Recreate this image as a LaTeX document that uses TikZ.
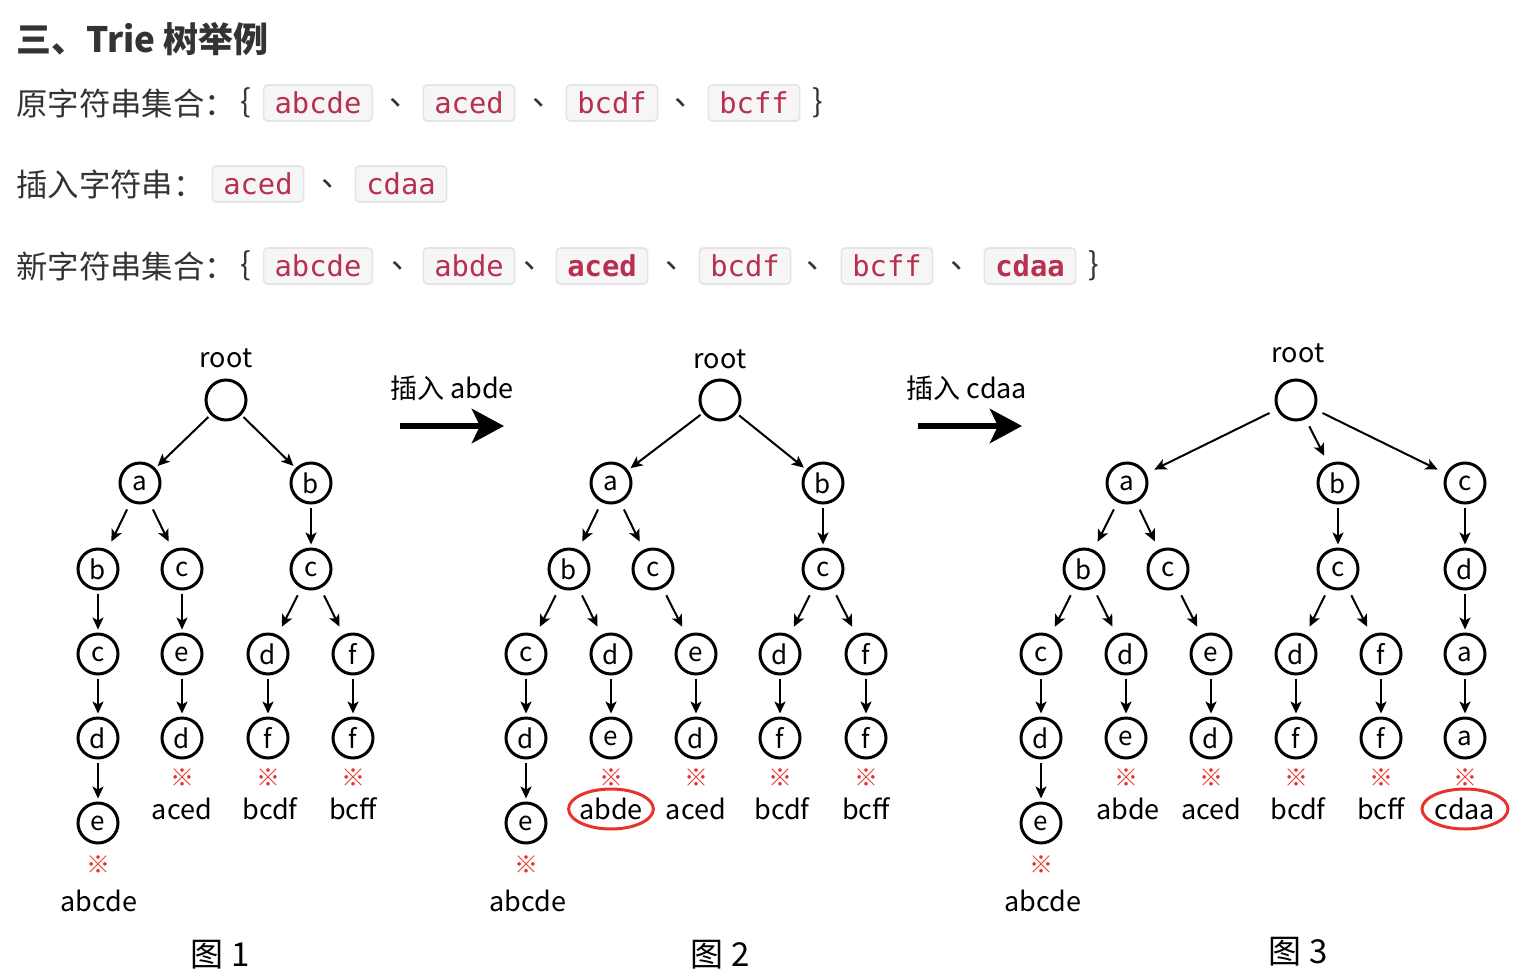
\documentclass[tikz,border=0pt]{standalone}
\usepackage{fontspec}
\usetikzlibrary{arrows.meta}
\newfontfamily\cjk{Noto Sans CJK SC}
\newfontfamily\codefont{DejaVu Sans Mono}
\definecolor{TextGray}{HTML}{333333}
\definecolor{CodeRed}{HTML}{B8304F}
\definecolor{CodeBg}{HTML}{F6F6F6}
\definecolor{CodeLine}{HTML}{E4E4E4}
\definecolor{MarkRed}{HTML}{E8332A}

\begin{document}
\begin{tikzpicture}[x=0.5pt,y=-0.5pt,
  nd/.style={circle,draw,line width=1.5pt,minimum size=20pt,inner sep=0pt,font=\cjk\fontsize{13}{13}\selectfont},
  lab/.style={font=\cjk\fontsize{13.5}{13.5}\selectfont,inner sep=0pt},
  endmk/.style={text=MarkRed,font=\cjk\fontsize{12}{12}\selectfont,inner sep=0pt},
  capt/.style={font=\cjk\fontsize{16.5}{16.5}\selectfont,inner sep=0pt},
  ed/.style={-{Stealth[length=6pt,width=5.5pt,inset=1.5pt]},line width=1pt,shorten <=1.5pt,shorten >=1.5pt},
  sed/.style={ed,shorten <=4pt,shorten >=4.5pt},
  big/.style={-{Stealth[length=16pt,width=17pt,inset=4pt]},line width=3pt},
  code/.style={fill=CodeBg,draw=CodeLine,line width=0.8pt,rounded corners=2pt,text=CodeRed,font=\codefont\fontsize{14.4}{14.4}\selectfont,minimum height=18pt,inner ysep=0pt,inner xsep=5.5pt},
  hd/.style={text=TextGray,font=\cjk\fontsize{15.7}{15.7}\selectfont,inner sep=0pt},
  oval/.style={draw=MarkRed,line width=1.5pt}]
  \useasboundingbox (0,0) rectangle (1516,980);
  \node[hd,anchor=west,font=\cjk\bfseries\fontsize{17.5}{17.5}\selectfont] (title) at (16,39) {三、Trie 树举例};
  \node[hd,anchor=west] (orig) at (16,103) {原字符串集合：}; \node[hd] (ob1) at (246,103) {\{};
  \node[code] (o1) at (318,103) {abcde}; \node[hd,anchor=west] (oc1) at (389,103) {、};
  \node[code] (o2) at (469,103) {aced}; \node[hd,anchor=west] (oc2) at (532,103) {、};
  \node[code] (o3) at (612,103) {bcdf}; \node[hd,anchor=west] (oc3) at (674,103) {、};
  \node[code] (o4) at (754,103) {bcff}; \node[hd] (ob2) at (818,103) {\}};
  \node[hd,anchor=west] (ins) at (16,184) {插入字符串：};
  \node[code] (i1) at (258,184) {aced}; \node[hd,anchor=west] (ic1) at (321,184) {、};
  \node[code] (i2) at (401,184) {cdaa};
  \node[hd,anchor=west] (news) at (16,266) {新字符串集合：}; \node[hd] (nb1) at (246,266) {\{};
  \node[code] (n1) at (318,266) {abcde}; \node[hd,anchor=west] (nc1) at (391,266) {、};
  \node[code] (n2) at (469,266) {abde}; \node[hd,anchor=west] (nc2) at (523,266) {、};
  \node[code,font=\codefont\bfseries\fontsize{14.4}{14.4}\selectfont] (n3) at (602,266) {aced}; \node[hd,anchor=west] (nc3) at (665,266) {、};
  \node[code] (n4) at (745,266) {bcdf}; \node[hd,anchor=west] (nc4) at (806,266) {、};
  \node[code] (n5) at (887,266) {bcff}; \node[hd,anchor=west] (nc5) at (950,266) {、};
  \node[code,font=\codefont\bfseries\fontsize{14.4}{14.4}\selectfont] (n6) at (1030,266) {cdaa}; \node[hd] (nb2) at (1094,266) {\}};

  \node[lab] (t1root) at (226,358) {root}; \node[nd] (t1r) at (226,400) {};
  \node[nd] (t1a) at (140,483) {a}; \node[nd] (t1b) at (311,483) {b};
  \node[nd] (t1ab) at (98,569) {b}; \node[nd] (t1ac) at (182,569) {c}; \node[nd] (t1bc) at (311,569) {c};
  \node[nd] (t1abc) at (98,654) {c}; \node[nd] (t1ace) at (182,654) {e}; \node[nd] (t1bcd) at (268,654) {d}; \node[nd] (t1bcf) at (353,654) {f};
  \node[nd] (t1abcd) at (98,738) {d}; \node[nd] (t1aced) at (182,738) {d}; \node[nd] (t1bcdf) at (268,738) {f}; \node[nd] (t1bcff) at (353,738) {f};
  \node[nd] (t1abcde) at (98,823) {e};
  \node[endmk] (t1m1) at (98,865) {※}; \node[lab] (t1w1) at (99,901) {abcde};
  \node[endmk] (t1m2) at (182,778) {※}; \node[lab] (t1w2) at (182,809) {aced};
  \node[endmk] (t1m3) at (268,778) {※}; \node[lab] (t1w3) at (270,809) {bcdf};
  \node[endmk] (t1m4) at (353,778) {※}; \node[lab] (t1w4) at (353,809) {bcff};
  \node[capt] (t1cap) at (220,955) {图 1};
  \draw[ed] (t1r) -- (t1a); \draw[ed] (t1r) -- (t1b);
  \draw[sed] (t1a) -- (t1ab); \draw[sed] (t1a) -- (t1ac); \draw[ed] (t1b) -- (t1bc);
  \draw[ed] (t1ab) -- (t1abc); \draw[ed] (t1ac) -- (t1ace); \draw[sed] (t1bc) -- (t1bcd); \draw[sed] (t1bc) -- (t1bcf);
  \draw[ed] (t1abc) -- (t1abcd); \draw[ed] (t1ace) -- (t1aced); \draw[ed] (t1bcd) -- (t1bcdf); \draw[ed] (t1bcf) -- (t1bcff);
  \draw[ed] (t1abcd) -- (t1abcde);

  \node[lab] (ins1) at (452,388) {插入 abde};
  \coordinate (ar1s) at (400,426); \coordinate (ar1e) at (504,426);
  \draw[big] (ar1s) -- (ar1e);

  \node[lab] (t2root) at (720,359) {root}; \node[nd] (t2r) at (720,400) {};
  \node[nd] (t2a) at (611,483) {a}; \node[nd] (t2b) at (823,483) {b};
  \node[nd] (t2ab) at (569,569) {b}; \node[nd] (t2ac) at (653,569) {c}; \node[nd] (t2bc) at (823,569) {c};
  \node[nd] (t2abc) at (526,654) {c}; \node[nd] (t2abd) at (611,654) {d}; \node[nd] (t2ace) at (696,654) {e}; \node[nd] (t2bcd) at (780,654) {d}; \node[nd] (t2bcf) at (866,654) {f};
  \node[nd] (t2abcd) at (526,738) {d}; \node[nd] (t2abde) at (611,738) {e}; \node[nd] (t2aced) at (696,738) {d}; \node[nd] (t2bcdf) at (780,738) {f}; \node[nd] (t2bcff) at (866,738) {f};
  \node[nd] (t2abcde) at (526,823) {e};
  \node[endmk] (t2m1) at (526,865) {※}; \node[lab] (t2w1) at (528,901) {abcde};
  \node[endmk] (t2m2) at (611,778) {※}; \node[lab] (t2w2) at (611,809) {abde};
  \node[endmk] (t2m3) at (696,778) {※}; \node[lab] (t2w3) at (696,809) {aced};
  \node[endmk] (t2m4) at (780,778) {※}; \node[lab] (t2w4) at (782,809) {bcdf};
  \node[endmk] (t2m5) at (866,778) {※}; \node[lab] (t2w5) at (866,809) {bcff};
  \draw[oval] (t2w2) ellipse (21.2pt and 10pt);
  \node[capt] (t2cap) at (720,955) {图 2};
  \draw[ed] (t2r) -- (t2a); \draw[ed] (t2r) -- (t2b);
  \draw[sed] (t2a) -- (t2ab); \draw[sed] (t2a) -- (t2ac); \draw[ed] (t2b) -- (t2bc);
  \draw[sed] (t2ab) -- (t2abc); \draw[sed] (t2ab) -- (t2abd); \draw[sed] (t2ac) -- (t2ace); \draw[sed] (t2bc) -- (t2bcd); \draw[sed] (t2bc) -- (t2bcf);
  \draw[ed] (t2abc) -- (t2abcd); \draw[ed] (t2abd) -- (t2abde); \draw[ed] (t2ace) -- (t2aced); \draw[ed] (t2bcd) -- (t2bcdf); \draw[ed] (t2bcf) -- (t2bcff);
  \draw[ed] (t2abcd) -- (t2abcde);

  \node[lab] (ins2) at (967,388) {插入 cdaa};
  \coordinate (ar2s) at (918,426); \coordinate (ar2e) at (1022,426);
  \draw[big] (ar2s) -- (ar2e);

  \node[lab] (t3root) at (1298,353) {root}; \node[nd] (t3r) at (1296,400) {};
  \node[nd] (t3a) at (1127,483) {a}; \node[nd] (t3b) at (1338,483) {b}; \node[nd] (t3c) at (1465,483) {c};
  \node[nd] (t3ab) at (1084,569) {b}; \node[nd] (t3ac) at (1168,569) {c}; \node[nd] (t3bc) at (1338,569) {c}; \node[nd] (t3cd) at (1465,569) {d};
  \node[nd] (t3abc) at (1041,654) {c}; \node[nd] (t3abd) at (1126,654) {d}; \node[nd] (t3ace) at (1211,654) {e}; \node[nd] (t3bcd) at (1296,654) {d}; \node[nd] (t3bcf) at (1381,654) {f}; \node[nd] (t3cda) at (1465,654) {a};
  \node[nd] (t3abcd) at (1041,738) {d}; \node[nd] (t3abde) at (1126,738) {e}; \node[nd] (t3aced) at (1211,738) {d}; \node[nd] (t3bcdf) at (1296,738) {f}; \node[nd] (t3bcff) at (1381,738) {f}; \node[nd] (t3cdaa) at (1465,738) {a};
  \node[nd] (t3abcde) at (1041,823) {e};
  \node[endmk] (t3m1) at (1041,865) {※}; \node[lab] (t3w1) at (1043,901) {abcde};
  \node[endmk] (t3m2) at (1126,778) {※}; \node[lab] (t3w2) at (1128,809) {abde};
  \node[endmk] (t3m3) at (1211,778) {※}; \node[lab] (t3w3) at (1211,809) {aced};
  \node[endmk] (t3m4) at (1296,778) {※}; \node[lab] (t3w4) at (1298,809) {bcdf};
  \node[endmk] (t3m5) at (1381,778) {※}; \node[lab] (t3w5) at (1381,809) {bcff};
  \node[endmk] (t3m6) at (1465,778) {※}; \node[lab] (t3w6) at (1465,809) {cdaa};
  \draw[oval] (t3w6) ellipse (21.5pt and 10pt);
  \node[capt] (t3cap) at (1298,952) {图 3};
  \draw[sed] (t3r) -- (t3a); \draw[sed] (t3r) -- (t3b); \draw[sed] (t3r) -- (t3c);
  \draw[sed] (t3a) -- (t3ab); \draw[sed] (t3a) -- (t3ac); \draw[ed] (t3b) -- (t3bc); \draw[ed] (t3c) -- (t3cd);
  \draw[sed] (t3ab) -- (t3abc); \draw[sed] (t3ab) -- (t3abd); \draw[sed] (t3ac) -- (t3ace); \draw[sed] (t3bc) -- (t3bcd); \draw[sed] (t3bc) -- (t3bcf); \draw[ed] (t3cd) -- (t3cda);
  \draw[ed] (t3abc) -- (t3abcd); \draw[ed] (t3abd) -- (t3abde); \draw[ed] (t3ace) -- (t3aced); \draw[ed] (t3bcd) -- (t3bcdf); \draw[ed] (t3bcf) -- (t3bcff); \draw[ed] (t3cda) -- (t3cdaa);
  \draw[ed] (t3abcd) -- (t3abcde);
\end{tikzpicture}
\end{document}
